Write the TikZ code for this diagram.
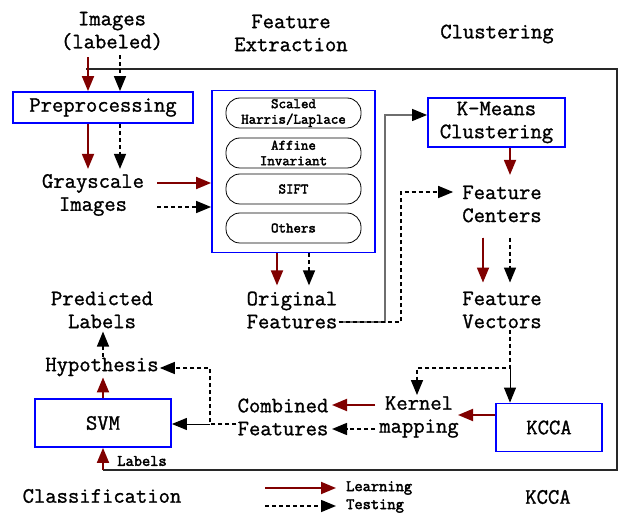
\documentclass[tikz,border=0pt]{standalone}
\usepackage{fontspec}
\newfontfamily\monoA{Latin Modern Mono}[FakeBold=1.2]
\newfontfamily\monoB{Latin Modern Mono}[FakeBold=2.6]
\usetikzlibrary{arrows.meta,calc}
\definecolor{dred}{RGB}{128,0,0}
\definecolor{fgray}{RGB}{110,110,110}
\definecolor{frame}{RGB}{40,40,40}
\newcommand\bigtxt{\monoA\fontsize{22}{23}\selectfont}
\newcommand\smalltxt{\monoB\fontsize{14.5}{15.5}\selectfont}
\newcommand\legtxt{\monoB\fontsize{16}{16}\selectfont}
\tikzset{
  tip/.style={-{Triangle[length=15pt,width=12pt]}},
  redarr/.style={tip, draw=dred, fill=dred, line width=1.8pt},
  dasharr/.style={tip, draw=black, line width=1.5pt, dash pattern=on 4pt off 3pt},
  solarr/.style={tip, draw=black, line width=1pt},
  grayarr/.style={-{Triangle[length=15pt,width=12pt,black]}, draw=fgray, line width=1.2pt},
  txt/.style={font=\bigtxt, align=center, inner sep=1pt},
  bluebox/.style={draw=blue, line width=1.8pt, inner sep=0pt, font=\bigtxt, align=center},
  rbox/.style={draw, rounded corners=14pt, line width=0.8pt, minimum width=135pt, minimum height=30pt, inner sep=0pt, font=\smalltxt, align=center},
}
\begin{document}
\begin{tikzpicture}[x=1pt,y=-1pt]
\useasboundingbox (0,0) rectangle (619,513);
% frame
\draw[line width=1.3pt, frame] (86,69) -- (617,69) -- (617,470) -- (103,470);
% titles
\node[txt] (imgs) at (112,31) {Images\\(labeled)};
\node[txt] (fetitle) at (291,33) {Feature\\Extraction};
\node[txt] (cltitle) at (497,34) {Clustering};
\node[txt] (clas) at (102,496) {Classification};
\node[txt] (kccatitle) at (548,497) {KCCA};
% boxes
\node[bluebox, minimum width=180pt, minimum height=31pt] (prep) at (103,107.5) {Preprocessing};
\node[draw=blue, line width=1.8pt, minimum width=163pt, minimum height=162pt] (febox) at (293.5,171.5) {};
\node[rbox] (r1) at (293.5,113) {Scaled\\Harris/Laplace};
\node[rbox] (r2) at (293.5,153) {Affine\\Invariant};
\node[rbox] (r3) at (293.5,189) {SIFT};
\node[rbox] (r4) at (293.5,228) {Others};
\node[bluebox, minimum width=137pt, minimum height=49pt] (km) at (496.5,122.5) {K-Means\\Clustering};
\node[bluebox, minimum width=106pt, minimum height=48pt] (kcca) at (549,427.5) {KCCA};
\node[bluebox, minimum width=136pt, minimum height=48pt] (svm) at (103,423) {SVM};
% text nodes
\node[txt] (gray) at (93,195) {Grayscale\\Images};
\node[txt] (orig) at (292,310) {Original\\Features};
\node[txt] (fcent) at (502,204) {Feature\\Centers};
\node[txt] (fvec) at (502,310) {Feature\\Vectors};
\node[txt] (kern) at (419,417) {Kernel\\mapping};
\node[txt] (comb) at (283,417) {Combined\\Features};
\node[txt] (hyp) at (102,367) {Hypothesis};
\node[txt] (pred) at (102,310) {Predicted\\Labels};
\node[font=\legtxt, inner sep=1pt] (lab) at (142,461) {Labels};
\node[font=\legtxt, anchor=west, inner sep=1pt] (learn) at (345,488) {Learning};
\node[font=\legtxt, anchor=west, inner sep=1pt] (test) at (345,506) {Testing};
% coordinates
\coordinate (c1) at (385,322);
\coordinate (c2) at (401,322);
\coordinate (c3) at (510,368);
\coordinate (c4) at (210,424);
\coordinate (l1) at (265,488);
\coordinate (l2) at (265,506);
% input arrows
\draw[redarr] (imgs.south -| 88,0) ++(0,6) -- (prep.north -| 88,0);
\draw[dasharr] (imgs.south -| 120,0) ++(0,4) -- (prep.north -| 120,0);
\draw[redarr] (prep.south -| 88,0) -- ++(0,45);
\draw[dasharr] (prep.south -| 120,0) -- ++(0,45);
\draw[redarr] (157,183) -- (febox.west |- 0,183);
\draw[dasharr] (157,207) -- (febox.west |- 0,207);
\draw[redarr] (febox.south -| 277,0) -- ++(0,32);
\draw[dasharr] (febox.south -| 309,0) -- ++(0,32);
% original features to clustering
\draw[grayarr] (orig.east |- c1) -- (c1) |- (km.west |- 0,115);
\draw[dasharr, shorten >=8pt] (orig.east |- c2) -- (c2) |- (fcent.west |- 0,192);
\draw[redarr] (km.south -| 510,0) -- ++(0,27);
\draw[redarr] (fcent.south -| 483,0) ++(0,14) -- ++(0,45);
\draw[dasharr] (fcent.south -| 510,0) ++(0,14) -- ++(0,45);
% feature vectors to kcca / kernel
\draw[dasharr] (fvec.south -| c3) -- (c3) -| (kern.north -| 417,0);
\draw[solarr] (c3) -- (kcca.north -| c3);
\draw[redarr] (kcca.west |- 0,415) -- (458,415);
\draw[redarr] (375,405) -- (332,405);
\draw[dasharr] (375,429) -- (332,429);
% combined to svm / hypothesis
\draw[dasharr] (comb.west |- c4) -- (c4) |- (hyp.east |- 0,368);
\draw[solarr] (c4) -- (svm.east |- c4);
\draw[redarr] (svm.north) -- (hyp.south -| svm.north);
\draw[dasharr] (hyp.north -| svm.north) -- ++(0,-25);
\draw[redarr] (svm.south |- 0,470) -- (svm.south);
% legend
\draw[redarr, shorten >=9pt] (l1) -- (l1 -| learn.west);
\draw[dasharr, shorten >=9pt] (l2) -- (l2 -| test.west);
\end{tikzpicture}
\end{document}
